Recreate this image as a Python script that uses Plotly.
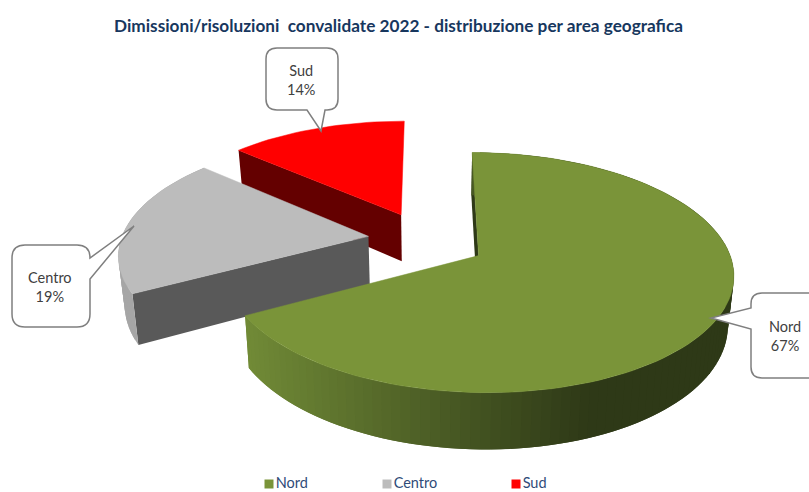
import math
import plotly.graph_objects as go

# ---- data ----
categories = ["Nord", "Centro", "Sud"]
shares = [67.1, 19.4, 13.5]
title_text = "Dimissioni/risoluzioni  convalidate 2022 - distribuzione per area geografica"

# ---- styling ----
top_colors = ["#7a9439", "#bcbcbc", "#ff0000"]
cut_colors = ["#2e3917", "#595959", "#640000"]
rim_colors = [None, "#a6a6a6", "#640000"]
explode = [0.24, 0.24, 0.27]
nudge = [(1.5, -0.5), (2, -2.5), (2.5, 0)]
CX, CY, RX, RY, K, DEPTH, SHRINK, VPX = 425.2, 241.9, 247.3, 113.7, 0.139, 48, 0.98, 430


def project(u, v, low=False, off=(0, 0)):
    s = 1 / (1 - K * v)
    x = CX + RX * u * s
    y = CY + RY * v * s
    if low:
        y += DEPTH * s
        x = VPX + (x - VPX) * SHRINK
    return x + off[0], y + off[1]


fig = go.Figure()


def poly(pts, color, line=0.0):
    fig.add_trace(go.Scatter(
        x=[p[0] for p in pts] + [pts[0][0]], y=[p[1] for p in pts] + [pts[0][1]],
        mode="lines", fill="toself", fillcolor=color,
        line=dict(color=color, width=line), hoverinfo="skip", showlegend=False))


def lerp_hex(c1, c2, t):
    t = max(0, min(1, t))
    a = [int(c1[i:i + 2], 16) for i in (1, 3, 5)]
    b = [int(c2[i:i + 2], 16) for i in (1, 3, 5)]
    return "rgb(%d,%d,%d)" % tuple(round(p + (q - p) * t) for p, q in zip(a, b))


# slice angles from the values
total = sum(shares)
spans = []
acc = 0
for s in shares:
    spans.append((acc / total * 2 * math.pi, (acc + s) / total * 2 * math.pi))
    acc += s

for i in [2, 1, 0]:
    t0, t1 = spans[i]
    mid = (t0 + t1) / 2
    e = explode[i]
    off = nudge[i]

    def rp(a, theta, low=False):
        return project(e * math.sin(mid) + a * math.sin(theta),
                       -e * math.cos(mid) - a * math.cos(theta), low, off)

    n = max(12, int((t1 - t0) / math.radians(2)))
    thetas = [t0 + (t1 - t0) * j / n for j in range(n + 1)]
    # cut face at the start angle
    poly([rp(0, t0), rp(1, t0), rp(1, t0, True), rp(0, t0, True)], cut_colors[i])
    # outer wall: drawn end to start, each quad overlapping the next, so no seams show
    if i != 2:  # the Sud wall faces away from the viewer
        for j in range(n - 1, -1, -1):
            a = thetas[j]
            b = thetas[min(j + 2, n)]
            p = [rp(1, a), rp(1, b), rp(1, b, True), rp(1, a, True)]
            c = rim_colors[i] or lerp_hex("#2e3917", "#728c37", (600 - p[3][0]) / 350)
            poly(p, c)
    # top face
    poly([rp(0, t0)] + [rp(1, t) for t in thetas], top_colors[i], 0.5)

# legend row: swatch and label for each category
legend_x = [269, 387, 516]
for cat, col, lx in zip(categories, top_colors, legend_x):
    fig.add_trace(go.Scatter(
        x=[lx], y=[484], mode="markers+text", name=cat, text=[cat],
        textposition="middle right", cliponaxis=False, showlegend=False, hoverinfo="skip",
        textfont=dict(family="Lato", size=14.5, color="#2f4b78"),
        marker=dict(symbol="square", size=9, color=col)))


def rounded_box(x0, y0, x1, y1, r, tail_side, b0, b1, tip):
    """Callout outline as an SVG path; the tail leaves one side of the box."""
    d = [f"M{x0 + r},{y0}"]
    d.append(f"L{x1 - r},{y0} Q{x1},{y0} {x1},{y0 + r}")
    if tail_side == "right":
        d.append(f"L{x1},{b0} L{tip[0]},{tip[1]} L{x1},{b1}")
    d.append(f"L{x1},{y1 - r} Q{x1},{y1} {x1 - r},{y1}")
    if tail_side == "bottom":
        d.append(f"L{b1},{y1} L{tip[0]},{tip[1]} L{b0},{y1}")
    d.append(f"L{x0 + r},{y1} Q{x0},{y1} {x0},{y1 - r}")
    if tail_side == "left":
        d.append(f"L{x0},{b1} L{tip[0]},{tip[1]} L{x0},{b0}")
    d.append(f"L{x0},{y0 + r} Q{x0},{y0} {x0 + r},{y0} Z")
    return " ".join(d)


callouts = [
    (0, 751, 293, 830, 378, 11, "left", 308, 329, (711, 318), 785, 336),
    (1, 12, 245, 90, 327, 13, "right", 258, 279, (134, 226), 50, 287),
    (2, 266, 48, 338, 110, 11, "bottom", 307, 325, (321, 131), 301, 80),
]
shapes = []
annotations = []
for idx, x0, y0, x1, y1, r, side, b0, b1, tip, tx, ty in callouts:
    shapes.append(dict(type="path", path=rounded_box(x0, y0, x1, y1, r, side, b0, b1, tip),
                       xref="x", yref="y", fillcolor="white", line=dict(color="#7f7f7f", width=1.5)))
    annotations.append(dict(x=tx, y=ty, xref="x", yref="y", showarrow=False, align="center",
                            text=f"{categories[idx]}<br>{shares[idx]:.0f}%",
                            font=dict(family="Lato", size=14.5, color="#404040")))

fig.update_layout(
    width=809, height=492, autosize=False, showlegend=False,
    margin=dict(l=0, r=0, t=0, b=0, autoexpand=False),
    paper_bgcolor="white", plot_bgcolor="white",
    xaxis=dict(range=[0, 809], visible=False, fixedrange=True),
    yaxis=dict(range=[492, 0], visible=False, fixedrange=True),
    title=dict(text=f"<b>{title_text}</b>", x=398.5 / 809, xanchor="center", y=1 - 25.5 / 492, yanchor="middle",
               font=dict(family="Lato", size=17.2, color="#17375e")),
    shapes=shapes, annotations=annotations,
)
fig.write_html("out.html", config={"displayModeBar": False},
               post_script="document.body.style.margin='0';document.body.style.overflow='hidden';")
